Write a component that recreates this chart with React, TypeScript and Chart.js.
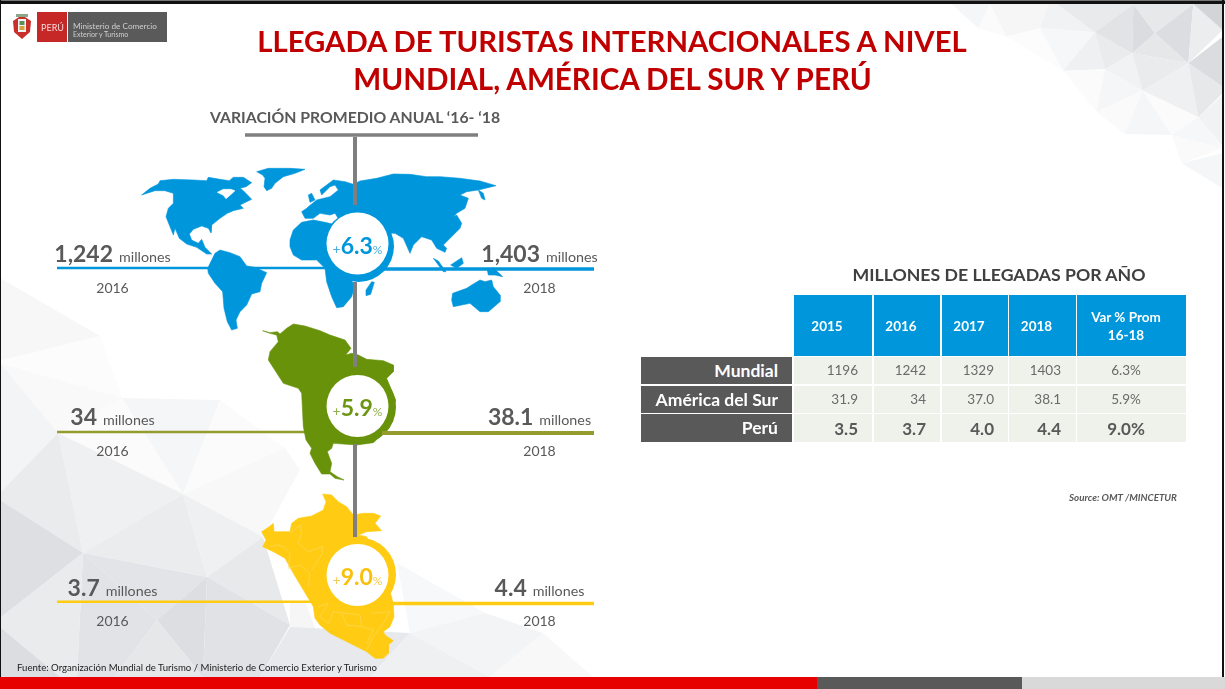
import React, { useEffect, useRef } from "react";
import { Chart, registerables } from "chart.js";

Chart.register(...registerables);

// ---------- data ----------
const yearHeaders = ["2015", "2016", "2017", "2018"];
const varHeader = ["Var % Prom", "16-18"];
const rowNames = ["Mundial", "América del Sur", "Perú"];
const mundialValues = ["1196", "1242", "1329", "1403", "6.3%"];
const surValues = ["31.9", "34", "37.0", "38.1", "5.9%"];
const peruValues = ["3.5", "3.7", "4.0", "4.4", "9.0%"];
const calloutFrom = ["1,242", "34", "3.7"];
const calloutTo = ["1,403", "38.1", "4.4"];
const growth = ["6.3", "5.9", "9.0"];
const yearFrom = "2016";
const yearTo = "2018";

// ---------- palette and layout ----------
const BLUE = "#0096db";
const GREEN = "#68920a";
const OLIVE = "#959c2f";
const YELLOW = "#ffcb13";
const GREY = "#595959";
const FONT = "Lato, 'Open Sans', sans-serif";

type Pt = { x: number; y: number };
const trace = (ox: number, oy: number, c: number[], close = true): Pt[] => {
  const out: Pt[] = [];
  for (let i = 0; i < c.length; i += 2) out.push({ x: ox + c[i] / 3, y: oy + c[i + 1] / 3 });
  if (close && out.length) out.push(out[0]);
  return out;
};

// Map outlines (illustration)
const worldA = (c: number[]) => trace(140, 160, c);
const worldB = (c: number[]) => trace(280, 165, c);
const worldShapes = [
  worldA([5,105,30,85,55,72,60,62,100,58,160,60,200,62,205,52,240,58,268,62,280,52,310,52,335,68,318,80,300,85,310,92,335,118,320,125,300,135,310,145,280,152,262,160,240,175,215,195,213,218,205,205,185,198,160,208,148,222,155,240,175,250,185,238,195,262,215,282,200,282,170,262,140,252,118,235,105,205,100,225,88,195,78,170,85,145,100,130,100,100,75,92,45,92]),
  worldA([350,35,385,25,450,25,495,28,465,40,430,50,405,70,395,85,380,92,372,80,375,55,368,45]),
  worldA([203,325,225,280,240,270,270,278,300,290,320,318,345,322,380,338,365,370,360,395,335,402,320,435,300,455,288,480,292,505,275,510,262,485,252,445,248,395,225,370,205,340]),
  worldB([30,225,40,195,65,172,100,165,135,172,170,180,200,200,200,330,225,360,215,395,190,425,170,428,155,395,140,350,135,310,110,285,65,285,40,270,30,245]),
  worldB([65,140,75,160,100,160,120,145,150,150,165,145,200,200,345,205,370,220,390,265,400,240,425,215,455,225,470,250,495,262,500,250,490,240,510,220,540,190,545,175,530,150,520,155,530,145,555,130,565,100,540,90,560,80,595,75,648,62,600,48,540,40,480,35,440,35,390,28,340,27,290,40,240,48,220,58,195,50,160,45,120,75,125,90,150,65,165,60,175,75,150,95,110,105,85,125,80,130]),
  worldB([85,90,95,85,105,105,90,112]),
  worldB([275,350,283,352,272,388,258,392,258,375]),
  worldB([460,280,475,288,498,320,490,320]),
  worldB([512,300,545,278,550,295,530,310]),
  worldB([622,315,640,308,668,335,645,330,625,330]),
  worldB([518,385,560,370,575,360,600,345,615,350,635,345,640,365,660,390,660,410,625,440,600,440,570,415,520,425,515,405]),
  worldB([595,75,610,85,615,105,605,100]),
];
const hudsonBay = worldA([232,97,250,88,272,88,285,92,272,104,258,116,250,106]);
const surShape = trace(250, 320, [38,32,60,38,82,35,90,42,110,25,130,12,165,18,210,32,240,45,285,60,303,85,287,105,305,100,325,105,350,118,400,122,430,135,430,155,410,175,437,240,420,310,395,345,370,368,320,375,250,370,245,385,232,395,245,430,240,455,262,470,282,480,255,475,240,462,215,462,195,430,180,400,185,385,168,360,160,320,155,220,145,205,100,190,55,120,60,95,85,65,80,45,60,40]);
const peruShape = trace(250, 490, [218,12,245,15,265,35,290,50,310,75,340,70,370,70,392,78,375,100,395,122,350,125,325,135,350,140,425,320,430,345,432,380,420,410,400,425,405,435,430,452,415,465,415,490,400,505,375,505,350,485,300,460,240,430,210,405,195,385,190,350,160,300,130,250,105,205,70,185,38,170,48,150,35,125,55,112,70,100,72,125,100,125,120,125,125,100,145,85,185,78,220,60,228,35]);
const peruRegions = [
  [120,130,150,105,155,130,145,160,175,185,218,170,215,195,185,240],
  [100,170,120,190,115,235,150,225,180,250,175,290],
  [60,170,85,165,100,170],
  [205,350,235,340,210,380,235,400,250,365,290,370,330,375,335,410,290,405,275,370],
  [365,370,420,365,400,400,370,440,350,480],
  [335,410,370,420,350,460],
].map((c) => trace(250, 490, c, false));

const rules = {
  left: [
    { y: 268, to: 330, w: 2.3, c: BLUE },
    { y: 432, to: 330, w: 2.5, c: OLIVE },
    { y: 601.7, to: 330, w: 2.5, c: YELLOW },
  ],
  right: [
    { y: 269, from: 383, w: 3.5, c: BLUE },
    { y: 433, from: 382, w: 4, c: OLIVE },
    { y: 603.5, from: 392, w: 3.5, c: YELLOW },
  ],
  xStart: 57,
  xEnd: 594,
};
const connectorX = 355;
const connectorSpans = [[137, 205], [282, 367], [444, 537]];
const discs = [
  { outer: { x: 358.5, y: 246.5, r: 35.5 }, inner: { x: 357.5, y: 243.5, r: 31 }, c: BLUE },
  { outer: { x: 359, y: 407, r: 37 }, inner: { x: 357.5, y: 406, r: 31 }, c: GREEN },
  { outer: { x: 359, y: 574.5, r: 37 }, inner: { x: 357.5, y: 575, r: 31 }, c: YELLOW },
];
const discColors = [BLUE, "#6c9612", "#f9c00c"];
const discPct = ["#4aaee0", "#8fb04a", "#f5cb55"];

// Low-poly background (decoration)
const bgLeft: [number[], string][] = [
  [[0,278,100,336,3,360,0,360], "#f7f7f8"],
  [[3,360,100,336,122,398,0,363], "#fcfcfc"],
  [[0,363,122,398,58,433], "#f9f9fa"],
  [[0,363,58,433,0,493], "#f3f4f5"],
  [[122,398,220,400,183,494], "#f5f6f7"],
  [[122,398,183,494,58,433], "#fbfbfb"],
  [[220,400,285,448,183,494], "#fbfbfb"],
  [[285,448,300,470,263,537,183,494], "#f8f8f9"],
  [[58,433,183,494,83,553], "#eff0f2"],
  [[58,433,83,553,0,500,0,493], "#eaebed"],
  [[0,500,83,553,0,618], "#dedfe2"],
  [[183,494,207,577,83,553], "#ebecee"],
  [[183,494,263,537,207,577], "#eff0f1"],
  [[207,577,263,537,290,625], "#e8e9eb"],
  [[83,553,207,577,157,620], "#e3e4e7"],
  [[207,577,157,620,203,677], "#dddee2"],
  [[207,577,290,625,260,677,203,677], "#e1e2e5"],
  [[83,553,157,620,115,677,77,677], "#e2e3e6"],
  [[0,618,83,553,77,677,60,677,0,627], "#eaebed"],
  [[0,627,60,677,0,677], "#dcdde0"],
  [[157,620,203,677,115,677], "#e6e7e9"],
  [[290,603,305,602,320,640,290,627], "#f6f6f7"],
  [[290,627,410,633,370,677,260,677], "#e8e9ec"],
  [[410,633,370,677,490,677], "#eff0f2"],
  [[397,563,485,613,410,633], "#f7f8f9"],
  [[410,633,485,613,543,633,490,677], "#f3f4f6"],
  [[543,633,593,677,490,677], "#f8f8f9"],
];
const bgRight: [number[], string][] = [
  [[155,12,270,12,235,85], "#f5f6f7"],
  [[270,12,320,110,235,85], "#fbfbfb"],
  [[270,12,445,12,420,85,320,110], "#f6f6f7"],
  [[320,110,420,85,490,212], "#fcfcfc"],
  [[445,12,470,12,585,97,420,85], "#f1f2f3"],
  [[470,12,700,12,585,97], "#e9eaec"],
  [[420,85,585,97,490,212], "#f6f7f8"],
  [[585,97,615,208,490,212], "#eef0f1"],
  [[585,97,697,160,615,208], "#eaebed"],
  [[585,97,700,12,697,160], "#e2e3e5"],
  [[700,12,765,100,697,160], "#dbdcdf"],
  [[700,12,880,12,765,100], "#e7e8ea"],
  [[765,100,880,12,865,190], "#dcdde0"],
  [[697,160,765,100,865,190], "#e6e7e9"],
  [[880,12,968,90,865,190], "#ecedef"],
  [[880,12,968,12,968,90], "#d3d4d7"],
  [[865,190,968,110,968,260], "#dbdce0"],
  [[615,208,697,160,728,272], "#f1f2f3"],
  [[697,160,865,190,728,272], "#eaebed"],
  [[490,212,615,208,590,335], "#fbfbfb"],
  [[615,208,728,272,590,335], "#f5f6f7"],
  [[865,190,895,352,728,272], "#eff0f2"],
  [[865,190,968,260,968,280,895,352], "#e7e8ea"],
  [[590,335,728,272,675,402], "#fafafa"],
  [[728,272,815,405,675,402], "#f5f6f7"],
  [[728,272,895,352,815,405], "#fbfbfb"],
  [[895,352,968,285,968,440], "#f1f2f4"],
  [[815,405,895,352,968,445], "#f6f7f8"],
  [[815,405,968,445,845,490], "#fafafa"],
  [[845,490,968,460,968,565], "#f5f6f7"],
];

const pts = (c: number[]) => c.reduce((s, v, i) => s + (i % 2 ? "," : " ") + v, "");

// ---------- helpers ----------
type TP = {
  x: number; y: number; size: number; anchor?: "l" | "c" | "r"; bold?: boolean; italic?: boolean;
  color?: string; children: React.ReactNode;
};
const T = ({ x, y, size, anchor = "c", bold, italic, color = GREY, children }: TP) => {
  const tx = anchor === "l" ? "0" : anchor === "c" ? "-50%" : "-100%";
  return (
    <div
      style={{
        position: "absolute", left: x, top: y, transform: `translate(${tx},-50%)`,
        fontFamily: FONT, fontSize: size, fontWeight: bold ? 700 : 400, fontStyle: italic ? "italic" : "normal",
        color, lineHeight: 1, whiteSpace: "nowrap",
      }}
    >
      {children}
    </div>
  );
};
const Box = ({ l, t, r, b, c }: { l: number; t: number; r: number; b: number; c: string }) => (
  <div style={{ position: "absolute", left: l, top: t, width: r - l, height: b - t, background: c }} />
);

const colEdges = [[794, 872], [874, 940], [942, 1008], [1009, 1076], [1077, 1186]];
const rowEdges = [[357, 384], [386, 413], [414, 442]];
const valueRight = [858, 926, 994, 1061];
const headerCentre = [827, 901, 969, 1036.5];
const tableRows = [mundialValues, surValues, peruValues];

const calloutLayout = [
  { lx: 112.5, rx: 539.5, ny: 253, yy: 288 },
  { lx: 112.5, rx: 539.5, ny: 416, yy: 451 },
  { lx: 112.5, rx: 539.5, ny: 587, yy: 621 },
];

export default function App() {
  const ref = useRef<HTMLCanvasElement>(null);
  useEffect(() => {
    document.body.style.margin = "0";
    const line = (data: Pt[], color: string, width: number) => ({
      data, showLine: true, fill: false, borderColor: color, borderWidth: width, pointRadius: 0, tension: 0,
      borderCapStyle: "butt",
    });
    const shape = (data: Pt[], color: string) => ({
      data, showLine: true, fill: "shape", backgroundColor: color, borderColor: color, borderWidth: 0.6,
      pointRadius: 0, tension: 0,
    });
    const disc = (p: { x: number; y: number; r: number }, color: string) => ({
      data: [{ x: p.x, y: p.y }], showLine: false, pointRadius: p.r, pointHoverRadius: p.r,
      pointBackgroundColor: color, pointBorderColor: color, pointBorderWidth: 0,
    });
    // painted bottom-up; the library paints the first dataset last, so the list is reversed
    const paint: any[] = [
      ...rules.left.map((r) => line([{ x: rules.xStart, y: r.y }, { x: r.to, y: r.y }], r.c, r.w)),
      ...worldShapes.map((s) => shape(s, BLUE)),
      shape(hudsonBay, "#ffffff"),
      shape(surShape, GREEN),
      shape(peruShape, YELLOW),
      ...peruRegions.map((s) => line(s, "#ffdc68", 0.6)),
      ...connectorSpans.map(([a, b]) => line([{ x: connectorX, y: a }, { x: connectorX, y: b }], "#7f7f7f", 4)),
      line([{ x: 245, y: 135 }, { x: 478, y: 135 }], "#7f7f7f", 3.6),
      ...discs.flatMap((d) => [disc(d.outer, d.c), disc(d.inner, "#ffffff")]),
      ...rules.right.map((r) => line([{ x: r.from, y: r.y }, { x: rules.xEnd, y: r.y }], r.c, r.w)),
    ];
    const chart = new Chart(ref.current as HTMLCanvasElement, {
      type: "scatter",
      data: { datasets: paint.reverse() },
      options: {
        animation: false,
        responsive: false,
        events: [],
        layout: { padding: 0, autoPadding: false },
        scales: {
          x: { type: "linear", min: 0, max: 1225, display: false },
          y: { type: "linear", min: 0, max: 689, reverse: true, display: false },
        },
        plugins: {
          legend: { display: false },
          tooltip: { enabled: false },
          filler: { drawTime: "beforeDatasetDraw" },
        },
      } as any,
    });
    return () => chart.destroy();
  }, []);

  const big = 23;
  const small = 14.3;
  return (
    <div style={{ position: "absolute", left: 0, top: 0, width: 1225, height: 689, overflow: "hidden", background: "#fff" }}>
      <svg width={1225} height={689} style={{ position: "absolute", left: 0, top: 0 }}>
        {bgLeft.map(([c, f], i) => <polygon key={i} points={pts(c)} fill={f} />)}
        <g transform="translate(900,0) scale(0.3333)">
          {bgRight.map(([c, f], i) => <polygon key={i} points={pts(c)} fill={f} />)}
        </g>
      </svg>
      <canvas ref={ref} width={1225} height={689} style={{ position: "absolute", left: 0, top: 0, width: 1225, height: 689 }} />

      {/* frame and footer band */}
      <Box l={0} t={0} r={1225} b={1} c="#777" />
      <Box l={0} t={1} r={1225} b={4} c="#111" />
      <Box l={0} t={0} r={1} b={689} c="#111" />
      <Box l={1222} t={0} r={1224} b={689} c="#111" />
      <Box l={0} t={677} r={817} b={689} c="#e60000" />
      <Box l={817} t={677} r={1022} b={689} c="#595959" />
      <Box l={1022} t={677} r={1225} b={689} c="#d9d9d9" />

      {/* logo */}
      <svg width={24} height={30} style={{ position: "absolute", left: 10, top: 12 }}>
        <path d="M3 9 L9 5 L15 5 L21 9 L20 20 L12 27 L4 20 Z" fill="#c9302c" />
        <rect x={8} y={7} width={8} height={13} fill="#f3f3f3" />
        <rect x={9.5} y={9} width={5} height={4} fill="#5b8f5a" />
        <rect x={9.5} y={14} width={5} height={4} fill="#d6a13b" />
        <rect x={6} y={2} width={12} height={3} fill="#8aa78a" />
      </svg>
      <Box l={37} t={12} r={67} b={42} c="#c62828" />
      <Box l={68} t={12} r={167} b={42} c="#5a5a5a" />
      <T x={52.5} y={27} size={9} color="#f5dada">PERÚ</T>
      <T x={73} y={25.5} size={8.2} anchor="l" color="#cfcfcf">Ministerio de Comercio</T>
      <T x={73} y={33.5} size={7} anchor="l" color="#cfcfcf">Exterior y Turismo</T>

      {/* headings */}
      <T x={612} y={41} size={29.3} bold color="#c00000">LLEGADA DE TURISTAS INTERNACIONALES A NIVEL</T>
      <T x={612.5} y={79} size={29.6} bold color="#c00000">MUNDIAL, AMÉRICA DEL SUR Y PERÚ</T>
      <T x={355} y={117} size={15.8} bold>VARIACIÓN PROMEDIO ANUAL ‘16- ‘18</T>
      <T x={999} y={275} size={17.7} bold color="#404040">MILLONES DE LLEGADAS POR AÑO</T>

      {/* callouts */}
      {calloutLayout.map((c, i) => (
        <React.Fragment key={i}>
          <T x={c.lx} y={c.ny} size={big}>
            <b>{calloutFrom[i]}</b> <span style={{ fontSize: small }}>millones</span>
          </T>
          <T x={c.rx} y={c.ny} size={big}>
            <b>{calloutTo[i]}</b> <span style={{ fontSize: small }}>millones</span>
          </T>
          <T x={c.lx} y={c.yy} size={14}>{yearFrom}</T>
          <T x={c.rx} y={c.yy} size={14}>{yearTo}</T>
          <T x={discs[i].inner.x} y={discs[i].inner.y + 1} size={23} bold color={discColors[i]}>
            <span style={{ fontSize: 14, fontWeight: 400, color: discPct[i] }}>+</span>
            {growth[i]}
            <span style={{ fontSize: 12, fontWeight: 400, color: discPct[i] }}>%</span>
          </T>
        </React.Fragment>
      ))}

      {/* table */}
      {colEdges.map(([l, r], i) => <Box key={i} l={l} t={295} r={r} b={356} c={BLUE} />)}
      {yearHeaders.map((h, i) => <T key={h} x={headerCentre[i]} y={327} size={13.5} bold color="#fff">{h}</T>)}
      {varHeader.map((h, i) => <T key={h} x={1126} y={318 + i * 18} size={13.5} bold color="#fff">{h}</T>)}
      {rowEdges.map(([t, b], ri) => (
        <React.Fragment key={ri}>
          <Box l={641} t={t} r={792} b={b} c={GREY} />
          <T x={778} y={(t + b) / 2} size={17.5} bold anchor="r" color="#fff">{rowNames[ri]}</T>
          {colEdges.map(([l, r], ci) => <Box key={ci} l={l} t={t} r={r} b={b} c="#eff2ea" />)}
          {tableRows[ri].map((v, ci) => (
            <T
              key={ci}
              x={ci < 4 ? valueRight[ci] : 1126}
              y={(t + b) / 2}
              anchor={ci < 4 ? "r" : "c"}
              size={ri === 2 ? 17 : 13.5}
              bold={ri === 2}
              color={ri === 2 ? "#595959" : "#6a6a6a"}
            >
              {v}
            </T>
          ))}
        </React.Fragment>
      ))}
      <T x={1177} y={498} size={9.8} anchor="r" bold italic>Source: OMT /MINCETUR</T>
      <T x={17} y={668} size={9.6} anchor="l" color="#222">Fuente: Organización Mundial de Turismo / Ministerio de Comercio Exterior y Turismo</T>
    </div>
  );
}
